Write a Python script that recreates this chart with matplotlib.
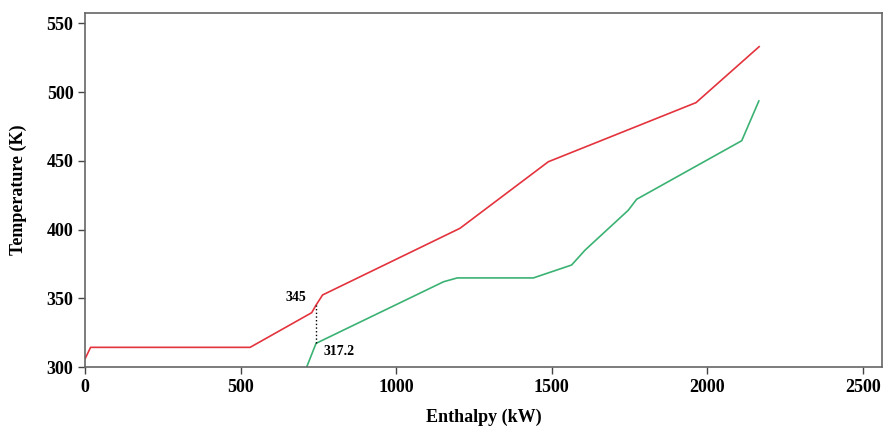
import matplotlib.pyplot as plt

# hot stream (red) and cold stream (green) composite curves
hot_h = [0, 17, 530, 728, 742, 763, 1205, 1489, 1964, 2167]
hot_t = [306.3, 314.3, 314.3, 339.5, 345, 352.4, 400.9, 449.3, 492.3, 533]
cold_h = [712, 742, 1152, 1196, 1441, 1564, 1607, 1746, 1773, 2111, 2166]
cold_t = [300, 317.2, 362, 364.8, 364.8, 374.2, 385, 414, 422, 464.6, 493.5]

pinch_h = 742
pinch_hot = 345
pinch_cold = 317.2

xticks = [0, 500, 1000, 1500, 2000, 2500]
yticks = [300, 350, 400, 450, 500, 550]

plt.rcParams['font.family'] = ['Liberation Serif', 'DejaVu Serif']
plt.rcParams['font.weight'] = 'bold'

fig = plt.figure(figsize=(8.83, 4.28), dpi=100)
ax = fig.add_axes([0.0966, 0.1425, 0.9026, 0.8278])

ax.plot(hot_h, hot_t, color='#e3333d', lw=1.2)
ax.plot(cold_h, cold_t, color='#3bb273', lw=1.2)
ax.plot([pinch_h, pinch_h], [pinch_cold, pinch_hot], color='black', ls=':', lw=1.0)

ax.text(pinch_h - 30, pinch_hot + 0.5, '345', fontsize=10, fontweight='bold',
        ha='right', va='bottom')
ax.text(pinch_h + 25, pinch_cold - 1.5, '317.2', fontsize=10, fontweight='bold',
        ha='left', va='top')

ax.set_xlim(0, 2563)
ax.set_ylim(300, 557.7)
ax.set_xticks(xticks)
ax.set_yticks(yticks)
ax.tick_params(labelsize=13, length=5, width=1, color='#444444')
for lab in ax.get_xticklabels() + ax.get_yticklabels():
    lab.set_fontweight('bold')
for s in ax.spines.values():
    s.set_color('#666666')
    s.set_linewidth(1.2)

ax.set_xlabel('Enthalpy (kW)', fontsize=13, fontweight='bold', labelpad=9)
ax.set_ylabel('Temperature (K)', fontsize=13, fontweight='bold', labelpad=14)

fig.savefig('out.png', dpi=100)
